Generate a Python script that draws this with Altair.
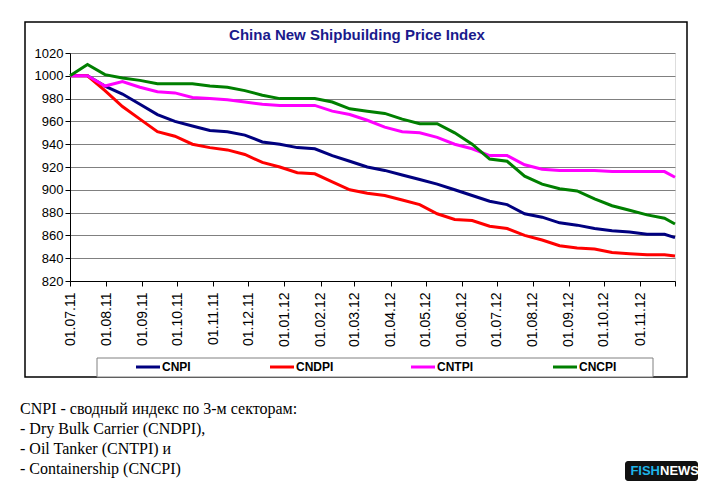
import pandas as pd
import altair as alt

dates = ["2011-07-01", "2011-07-16", "2011-07-31", "2011-08-15", "2011-08-30", "2011-09-14",
         "2011-09-29", "2011-10-14", "2011-10-29", "2011-11-13", "2011-11-28", "2011-12-13",
         "2011-12-28", "2012-01-12", "2012-01-27", "2012-02-11", "2012-02-26", "2012-03-12",
         "2012-03-27", "2012-04-11", "2012-04-26", "2012-05-11", "2012-05-26", "2012-06-10",
         "2012-06-25", "2012-07-10", "2012-07-25", "2012-08-09", "2012-08-24", "2012-09-08",
         "2012-09-23", "2012-10-08", "2012-10-23", "2012-11-07", "2012-11-22", "2012-12-01"]

cnpi = [1000, 1000, 991, 984, 975, 966, 960, 956, 952, 951, 948, 942, 940, 937, 936, 930, 925, 920,
        917, 913, 909, 905, 900, 895, 890, 887, 879, 876, 871, 869, 866, 864, 863, 861, 861, 858]
cndpi = [1000, 1000, 987, 973, 962, 951, 947, 940, 937, 935, 931, 924, 920, 915, 914, 907, 900, 897,
         895, 891, 887, 879, 874, 873, 868, 866, 860, 856, 851, 849, 848, 845, 844, 843, 843, 842]
cntpi = [1000, 1000, 991, 995, 990, 986, 985, 981, 980, 979, 977, 975, 974, 974, 974, 969, 966, 961,
         955, 951, 950, 946, 940, 936, 930, 930, 922, 918, 917, 917, 917, 916, 916, 916, 916, 911]
cncpi = [1000, 1010, 1001, 998, 996, 993, 993, 993, 991, 990, 987, 983, 980, 980, 980, 977, 971, 969,
         967, 962, 958, 958, 950, 940, 927, 925, 912, 905, 901, 899, 892, 886, 882, 878, 875, 870]

series = ["CNPI", "CNDPI", "CNTPI", "CNCPI"]
colors = ["#00007F", "#FF0000", "#FF00FF", "#007F00"]

rows = []
for name, vals in zip(series, [cnpi, cndpi, cntpi, cncpi]):
    for d, v in zip(dates, vals):
        rows.append({"date": d, "series": name, "value": v})
df = pd.DataFrame(rows)

tick_dates = [f"{y}-{m:02d}-01" for y, m in
              [(2011, m) for m in range(7, 13)] + [(2012, m) for m in range(1, 13)]]

one = pd.DataFrame({"a": [0]})

frame = alt.Chart(one).mark_rect(fill="transparent", stroke="black", strokeWidth=1.5).encode(
    x=alt.value(-45), x2=alt.value(617), y=alt.value(-31), y2=alt.value(324))

lines = alt.Chart(df).mark_line(strokeWidth=3).encode(
    x=alt.X("date:T", title=None,
            scale=alt.Scale(domain=["2011-07-01", "2012-12-01"]),
            axis=alt.Axis(values=tick_dates, format="%d.%m.%y", labelAngle=270, labelAlign="right",
                          labelBaseline="middle", labelFont="Arial", labelFontSize=14,
                          labelColor="black", domainColor="black", tickColor="black",
                          tickSize=5, grid=False, labelPadding=6, labelExpr=
                          "datum.label == '01.12.12' ? '' : datum.label")),
    y=alt.Y("value:Q", title=None,
            scale=alt.Scale(domain=[820, 1020], nice=False, zero=False),
            axis=alt.Axis(values=list(range(820, 1021, 20)), format="d", labelFont="Arial",
                          labelFontSize=13, labelColor="black", domainColor="black",
                          tickColor="black", gridColor="#808080", tickSize=5)),
    color=alt.Color("series:N", scale=alt.Scale(domain=series, range=colors), legend=None),
    detail="series:N",
)

title = alt.Chart(one).mark_text(font="Arial", fontSize=15, fontWeight="bold", color="#1A1A8C").encode(
    x=alt.value(287), y=alt.value(-18), text=alt.value("China New Shipbuilding Price Index"))

legbox = alt.Chart(one).mark_rect(fill="white", stroke="#808080", strokeWidth=1).encode(
    x=alt.value(27), x2=alt.value(583), y=alt.value(305), y2=alt.value(324))

layers = [frame, lines, title, legbox]
leg_x = [66, 200, 341, 483]
for name, col, lx in zip(series, colors, leg_x):
    layers.append(alt.Chart(one).mark_rule(color=col, strokeWidth=3).encode(
        x=alt.value(lx), x2=alt.value(lx + 24), y=alt.value(314)))
    layers.append(alt.Chart(one).mark_text(font="Arial", fontSize=12, fontWeight="bold",
                                           align="left", color="black").encode(
        x=alt.value(lx + 26), y=alt.value(314), text=alt.value(name)))

notes = ["CNPI - сводный индекс по 3-м секторам:", "- Dry Bulk Carrier (CNDPI),",
         "- Oil Tanker (CNTPI) и", "- Containership (CNCPI)"]
for i, t in enumerate(notes):
    layers.append(alt.Chart(one).mark_text(font="Liberation Serif", fontSize=16, align="left",
                                           baseline="alphabetic", color="black").encode(
        x=alt.value(-50), y=alt.value(361 + i * 20), text=alt.value(t)))

layers.append(alt.Chart(one).mark_rect(fill="#111111", cornerRadius=3).encode(
    x=alt.value(555), x2=alt.value(628), y=alt.value(408), y2=alt.value(428)))
layers.append(alt.Chart(one).mark_text(font="Arial", fontSize=13, fontWeight="bold", align="right",
                                       color="#1EB4E8").encode(
    x=alt.value(590), y=alt.value(418), text=alt.value("FISH")))
layers.append(alt.Chart(one).mark_text(font="Arial", fontSize=13, fontWeight="bold", align="left",
                                       color="white").encode(
    x=alt.value(590), y=alt.value(418), text=alt.value("NEWS")))

chart = alt.layer(*layers).properties(
    width=605, height=228,
    autosize=alt.AutoSizeParams(type="none"),
    padding={"left": 62, "top": 45, "right": 26, "bottom": 202},
).configure_view(stroke="#808080").configure(background="white")

chart.save("out.html", embed_options={"renderer": "svg", "actions": False})
